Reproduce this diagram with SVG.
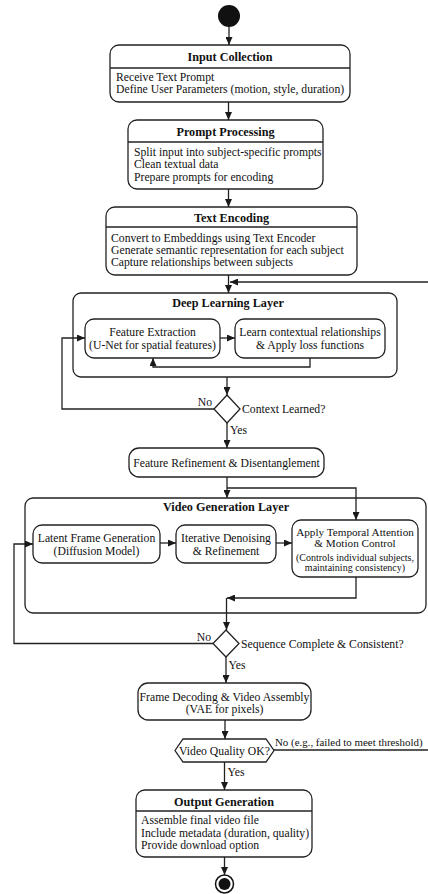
<svg xmlns="http://www.w3.org/2000/svg" width="428" height="894" viewBox="0 0 428 894">
<defs>
<marker id="ah" markerUnits="userSpaceOnUse" markerWidth="8" markerHeight="7" refX="8" refY="3.5" orient="auto">
<path d="M0,0 L8,3.5 L0,7 z" fill="#1a1a1a"/>
</marker>
<style>
.box{fill:#fff;stroke:#222;stroke-width:1.3}
.lay{fill:none;stroke:#222;stroke-width:1.3}
.ln{fill:none;stroke:#222;stroke-width:1.3}
.c{fill:none;stroke:#222;stroke-width:1.3;marker-end:url(#ah)}
text{font-family:"Liberation Serif","Times New Roman",serif;fill:#111;font-size:11.7px}
.t{font-weight:bold;font-size:12.2px;text-anchor:middle}
.m{text-anchor:middle}
.s{font-size:10px;text-anchor:middle}
</style>
</defs>
<rect width="428" height="894" fill="#fff"/>

<g id="start"><circle cx="229" cy="16" r="11" fill="#111"/></g>

<g id="input-collection">
<rect class="box" x="110" y="45" width="240" height="57" rx="9"/>
<line class="ln" x1="110" y1="68" x2="350" y2="68"/>
<text class="t" x="230" y="61">Input Collection</text>
<text x="116" y="81">Receive Text Prompt</text>
<text x="116" y="92.5">Define User Parameters (motion, style, duration)</text>
</g>

<g id="prompt-processing">
<rect class="box" x="128" y="120" width="195" height="69" rx="9"/>
<line class="ln" x1="128" y1="142" x2="323" y2="142"/>
<text class="t" x="225.5" y="136">Prompt Processing</text>
<text x="134" y="156">Split input into subject-specific prompts</text>
<text x="134" y="168">Clean textual data</text>
<text x="134" y="180.5">Prepare prompts for encoding</text>
</g>

<g id="text-encoding">
<rect class="box" x="106" y="207" width="251" height="68" rx="9"/>
<line class="ln" x1="106" y1="227" x2="357" y2="227"/>
<text class="t" x="231.5" y="222">Text Encoding</text>
<text x="111" y="242">Convert to Embeddings using Text Encoder</text>
<text x="111" y="254">Generate semantic representation for each subject</text>
<text x="111" y="266">Capture relationships between subjects</text>
</g>

<g id="deep-learning-layer">
<rect class="lay" x="73" y="293" width="324" height="84" rx="8"/>
<text class="t" x="228" y="307">Deep Learning Layer</text>
</g>

<g id="feature-extraction">
<rect class="box" x="85" y="319" width="135" height="39" rx="9"/>
<text class="m" x="152.5" y="336">Feature Extraction</text>
<text class="m" x="152.5" y="349">(U-Net for spatial features)</text>
</g>

<g id="learn-context">
<rect class="box" x="235" y="319" width="150" height="39" rx="9"/>
<text class="m" x="310" y="336">Learn contextual relationships</text>
<text class="m" x="310" y="349">&amp; Apply loss functions</text>
</g>

<g id="context-decision">
<polygon class="box" points="227,395 240,409 227,423 214,409"/>
<text x="242" y="413">Context Learned?</text>
</g>

<g id="feature-refinement">
<rect class="box" x="129" y="448" width="195" height="29" rx="10"/>
<text class="m" x="226.5" y="467">Feature Refinement &amp; Disentanglement</text>
</g>

<g id="video-generation-layer">
<rect class="lay" x="25" y="498" width="401" height="115" rx="8"/>
<text class="t" x="226" y="511">Video Generation Layer</text>
</g>

<g id="latent-frame">
<rect class="box" x="33" y="525" width="127" height="38" rx="9"/>
<text class="m" x="96.5" y="542">Latent Frame Generation</text>
<text class="m" x="96.5" y="555">(Diffusion Model)</text>
</g>

<g id="iterative-denoising">
<rect class="box" x="176" y="525" width="100" height="38" rx="9"/>
<text class="m" x="226" y="542">Iterative Denoising</text>
<text class="m" x="226" y="555">&amp; Refinement</text>
</g>

<g id="temporal-attention">
<rect class="box" x="292" y="520" width="126" height="57" rx="9"/>
<text class="m" x="355" y="536" style="font-size:11.2px">Apply Temporal Attention</text>
<text class="m" x="355" y="547" style="font-size:11.2px">&amp; Motion Control</text>
<text class="s" x="355" y="560.5">(Controls individual subjects,</text>
<text class="s" x="355" y="570.5">maintaining consistency)</text>
</g>

<g id="sequence-decision">
<polygon class="box" points="226,630 239,643.5 226,657 213,643.5"/>
<text x="241" y="647.5">Sequence Complete &amp; Consistent?</text>
</g>

<g id="frame-decoding">
<rect class="box" x="138" y="683" width="173" height="37" rx="10"/>
<text class="m" x="224.5" y="701">Frame Decoding &amp; Video Assembly</text>
<text class="m" x="224.5" y="712.5">(VAE for pixels)</text>
</g>

<g id="quality-decision">
<polygon class="box" points="175,750.5 183,739 266,739 274,750.5 266,762 183,762"/>
<text class="m" x="224.5" y="754.5">Video Quality OK?</text>
</g>

<g id="output-generation">
<rect class="box" x="136" y="790" width="176" height="67" rx="9"/>
<line class="ln" x1="136" y1="811" x2="312" y2="811"/>
<text class="t" x="224" y="806">Output Generation</text>
<text x="141" y="824">Assemble final video file</text>
<text x="141" y="836.5">Include metadata (duration, quality)</text>
<text x="141" y="849">Provide download option</text>
</g>

<g id="end">
<circle cx="224.5" cy="884" r="9" fill="#fff" stroke="#111" stroke-width="1.5"/>
<circle cx="224.5" cy="884" r="6" fill="#111"/>
</g>

<g id="connectors">
<path class="c" d="M229,27 V45"/>
<path class="c" d="M228.5,102 V120"/>
<path class="c" d="M228.5,189 V207"/>
<path class="c" d="M228.5,275 V293"/>
<path class="c" d="M428,282 H230"/>
<path class="c" d="M220,338 H235"/>
<path class="c" d="M310,358 V367 H153 V358"/>
<path class="c" d="M227,377 V395"/>
<path class="c" d="M214,409 H62 V338 H85"/>
<text x="212" y="406" text-anchor="end">No</text>
<text x="230" y="434">Yes</text>
<path class="c" d="M227,423 V448"/>
<path class="c" d="M227,477 V498"/>
<path class="c" d="M227,488 H356 V520"/>
<path class="c" d="M160,543 H176"/>
<path class="c" d="M276,543 H292"/>
<path class="c" d="M356,577 V598 H227"/>
<path class="c" d="M226.5,598 V630"/>
<path class="c" d="M213,643.5 H14 V544 H33"/>
<text x="211" y="641" text-anchor="end">No</text>
<text x="228.5" y="669">Yes</text>
<path class="c" d="M226,657 V683"/>
<path class="c" d="M225,720 V739"/>
<path class="ln" d="M274,750 H428"/>
<text x="275" y="746" style="font-size:10.9px">No (e.g., failed to meet threshold)</text>
<text x="227.5" y="776">Yes</text>
<path class="c" d="M224.5,762 V790"/>
<path class="c" d="M224.5,857 V875"/>
</g>
</svg>
